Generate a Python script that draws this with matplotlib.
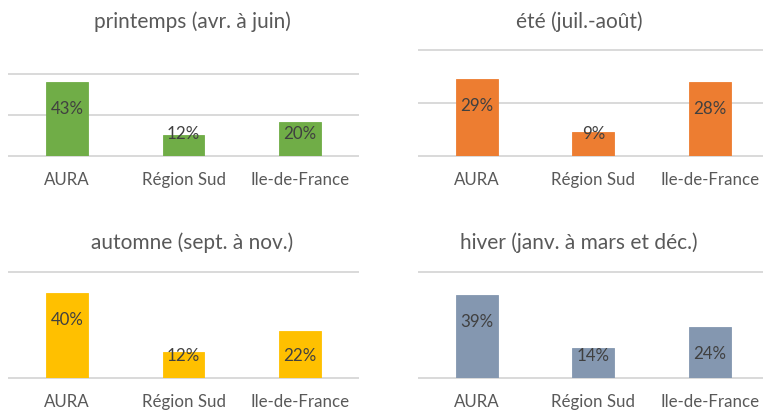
import matplotlib
matplotlib.use('Agg')
import matplotlib.pyplot as plt

plt.rcParams['font.family'] = ['Lato', 'DejaVu Sans']

regions = ['AURA', 'Région Sud', 'Ile-de-France']
titles = ['printemps (avr. à juin)', 'été (juil.-août)',
          'automne (sept. à nov.)', 'hiver (janv. à mars et déc.)']
printemps = [43, 12, 20]
ete = [29, 9, 28]
automne = [40, 12, 22]
hiver = [39, 14, 24]
series = [printemps, ete, automne, hiver]
colors = ['#70AD47', '#ED7D31', '#FFC000', '#8497B0']
# y axis max and gridline positions (in %)
ymax = [48, 40, 50, 50]
grids = [[0, 24, 48], [0, 20, 40], [0, 50], [0, 50]]

W, H = 763, 412
fig = plt.figure(figsize=(W / 100, H / 100), dpi=100)

# panel boxes in pixels: left, baseline y, width, height
boxes = [(9, 155.7, 349, 82.0), (418.7, 155.7, 349.5, 105.7),
         (9, 377.7, 349, 105.7), (418.7, 377.7, 349.5, 106.0)]
title_pos = [(192, 22), (579, 22), (192, 243), (579, 243)]

for i in range(4):
    l, base, w, h = boxes[i]
    ax = fig.add_axes([l / W, (H - base) / H, w / W, h / H])
    ax.set_xlim(-0.5, 2.5)
    ax.set_ylim(0, ymax[i])
    for g in grids[i]:
        ax.axhline(g, color='#D9D9D9', lw=1.4, zorder=1, clip_on=False)
    x = range(len(regions))
    ax.bar(x, series[i], width=0.36, color=colors[i], zorder=2,
           edgecolor=colors[i], linewidth=0.6)
    ax.set_xticks(list(x))
    ax.set_xticklabels(regions, fontsize=12.2, color='#595959')
    ax.tick_params(axis='x', length=0, pad=12)
    ax.set_yticks([])
    for s in ax.spines.values():
        s.set_visible(False)
    # data labels: 27 px under the bar top, never lower than 22 px above base
    px_per_unit = h / ymax[i]
    for xi, v in zip(x, series[i]):
        off = max(v * px_per_unit - 27, 22)
        ax.annotate(f'{v}%', xy=(xi, 0), xytext=(0, off * 0.72),
                    textcoords='offset points', ha='center', va='center',
                    fontsize=12.2, color='#404040', zorder=3)
    tx, ty = title_pos[i]
    fig.text(tx / W, 1 - ty / H, titles[i], ha='center', va='center',
             fontsize=15, color='#595959')

fig.savefig('out.png', dpi=100)
